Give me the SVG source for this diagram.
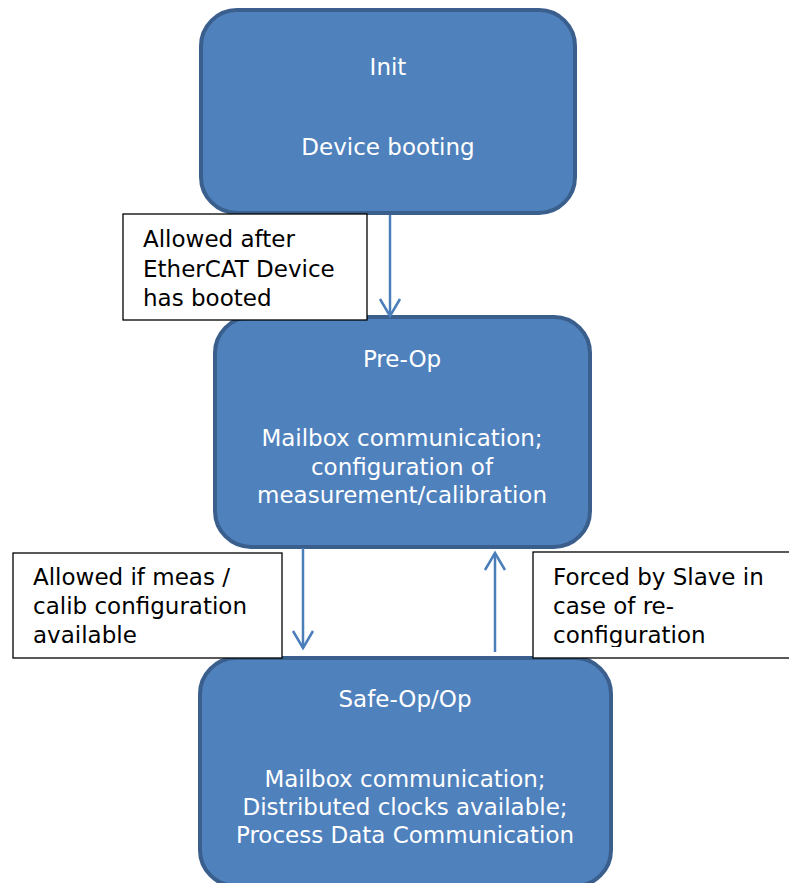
<svg xmlns="http://www.w3.org/2000/svg" width="789" height="883" viewBox="0 0 789 883">
  <style>
    .node { fill: #4f81bd; stroke: #3a5f8d; stroke-width: 4; }
    .ntext { font-family: "DejaVu Sans", Verdana, sans-serif; font-size: 23px; fill: #ffffff; text-anchor: middle; }
    .lbox { fill: #ffffff; stroke: #000000; stroke-width: 1.3; }
    .ltext { font-family: "DejaVu Sans", Verdana, sans-serif; font-size: 23px; fill: #000000; }
    .conn { stroke: #4a7ebb; stroke-width: 2.5; fill: none; marker-end: url(#arrow); }
  </style>
  <defs>
    <marker id="arrow" markerUnits="userSpaceOnUse" viewBox="-20 -12 22 24" refX="0" refY="0" markerWidth="22" markerHeight="24" orient="auto" overflow="visible">
      <path d="M -17 -10 L 0 0 L -17 10" fill="none" stroke="#4a7ebb" stroke-width="2.5"/>
    </marker>
    <clipPath id="clip3">
      <rect x="533" y="552" width="260" height="95"/>
    </clipPath>
  </defs>
  <rect width="789" height="883" fill="#ffffff"/>

  <g id="init">
    <rect class="node" x="201" y="10" width="374" height="203" rx="36" ry="36"/>
    <text class="ntext" x="388" y="75">Init</text>
    <text class="ntext" x="388" y="155">Device booting</text>
  </g>

  <g id="preop">
    <rect class="node" x="215" y="317" width="375" height="230" rx="36" ry="36"/>
    <text class="ntext" x="402" y="367">Pre-Op</text>
    <text class="ntext" x="402" y="446">Mailbox communication;</text>
    <text class="ntext" x="402" y="475">configuration of</text>
    <text class="ntext" x="402" y="503">measurement/calibration</text>
  </g>

  <g id="safeop">
    <rect class="node" x="200" y="658" width="411" height="228" rx="36" ry="36"/>
    <text class="ntext" x="405" y="707">Safe-Op/Op</text>
    <text class="ntext" x="405" y="787">Mailbox communication;</text>
    <text class="ntext" x="405" y="815">Distributed clocks available;</text>
    <text class="ntext" x="405" y="843">Process Data Communication</text>
  </g>

  <g id="connectors">
    <line class="conn" x1="390" y1="215" x2="390" y2="316"/>
    <line class="conn" x1="303" y1="548" x2="303" y2="648"/>
    <line class="conn" x1="495" y1="652" x2="495" y2="553"/>
  </g>

  <g id="label-booted">
    <rect class="lbox" x="123" y="214" width="244" height="106"/>
    <text class="ltext" x="143" y="247">Allowed after</text>
    <text class="ltext" x="143" y="277">EtherCAT Device</text>
    <text class="ltext" x="143" y="306">has booted</text>
  </g>

  <g id="label-meas">
    <rect class="lbox" x="13" y="553" width="269" height="105"/>
    <text class="ltext" x="33" y="585">Allowed if meas /</text>
    <text class="ltext" x="33" y="614">calib configuration</text>
    <text class="ltext" x="33" y="643">available</text>
  </g>

  <g id="label-forced">
    <rect class="lbox" x="533" y="552" width="270" height="106"/>
    <g clip-path="url(#clip3)">
      <text class="ltext" x="553" y="585">Forced by Slave in</text>
      <text class="ltext" x="553" y="614">case of re-</text>
      <text class="ltext" x="553" y="643">configuration</text>
    </g>
  </g>
</svg>
